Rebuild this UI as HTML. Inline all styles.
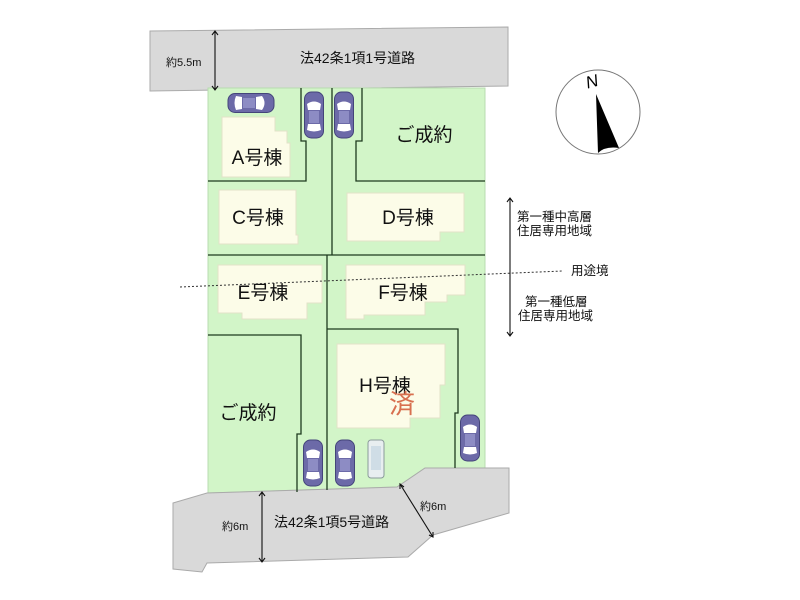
<!DOCTYPE html>
<html><head><meta charset="utf-8"><style>
body{margin:0;background:#fff}
svg{display:block}
text{font-family:"Liberation Sans","Noto Sans CJK JP",sans-serif}
</style></head><body>
<svg width="800" height="600" viewBox="0 0 800 600" xmlns="http://www.w3.org/2000/svg">
<defs>
<g id="car">
<rect x="-9.5" y="-23" width="19" height="46" rx="7" fill="#6c6aa8" stroke="#44447a" stroke-width="1"/>
<path d="M-7,-11 Q0,-16 7,-11 L6,-5 L-6,-5 Z" fill="#fff"/>
<rect x="-5" y="-4" width="10" height="12" fill="#8d8cc4"/>
<path d="M-6,9 L6,9 L7,15 Q0,18 -7,15 Z" fill="#fff"/>
</g>
</defs>
<polygon points="150,31 508,27 508,86 150,91" fill="#d9d9d9" stroke="#aaa" stroke-width="1"/>
<polygon points="208,88 485,88 485,468 425,468 397,487 208,493" fill="#d2f5c8" stroke="#b8dcb0"/>
<polygon points="173,503 207,493 397,487 425,468 509,468 509,513 433,535 408,557 207,563 202,572 173,569" fill="#d9d9d9" stroke="#aaa" stroke-width="1"/>
<g fill="#fcfce8" stroke="#e2e2c8" stroke-width="1">
<polygon points="222,117 275,117 275,131 287,131 287,143 290,143 290,177 222,177"/>
<polygon points="219,190 296,190 296,235 298,235 298,244 219,244"/>
<polygon points="347,193 464,193 464,232 440,232 440,241 347,241"/>
<polygon points="218,265 322,265 322,303 307,303 307,319 242,319 242,313 218,313"/>
<polygon points="346,265 465,265 465,295 447,295 447,302 425,302 425,315 364,315 364,319 346,319"/>
<polygon points="337,344 445,344 445,385 440,385 440,418 410,418 410,428 337,428"/>
</g>
<g fill="none" stroke="#1e3a1e" stroke-width="1.3">
<polyline points="301,88 301,141 306,141 306,181 208,181"/>
<polyline points="332,88 332,255"/>
<polyline points="362,88 362,141 356,141 356,181 485,181"/>
<line x1="208" y1="255" x2="485" y2="255"/>
<polyline points="327,255 327,490"/>
<polyline points="208,335 301,335 301,434 297,434 297,492"/>
<polyline points="327,329 458,329 458,413 455,413 455,468"/>
</g>
<use href="#car" transform="translate(251,103) rotate(90)"/>
<use href="#car" transform="translate(314,115)"/>
<use href="#car" transform="translate(344,115)"/>
<use href="#car" transform="translate(313,463)"/>
<use href="#car" transform="translate(345,463)"/>
<use href="#car" transform="translate(470,438)"/>
<g transform="translate(376,459)"><rect x="-8" y="-19" width="16" height="38" rx="3" fill="#e8eef0" stroke="#8a9a9a"/><rect x="-5" y="-13" width="10" height="24" fill="#cfdde6"/></g>
<g font-size="19" fill="#111" text-anchor="middle">
<text x="257" y="164">A号棟</text>
<text x="258" y="224">C号棟</text>
<text x="408" y="224">D号棟</text>
<text x="263" y="299">E号棟</text>
<text x="403" y="299">F号棟</text>
<text x="385" y="392">H号棟</text>
<text x="424" y="141">ご成約</text>
<text x="248" y="419">ご成約</text>
</g>
<text x="402" y="413" font-size="26" fill="#d87050" text-anchor="middle">済</text>
<g font-size="14" fill="#111">
<text x="300" y="63">法42条1項1号道路</text>
<text x="274" y="527">法42条1項5号道路</text>
</g>
<g font-size="11" fill="#111">
<text x="166" y="66">約5.5m</text>
<text x="222" y="530">約6m</text>
<text x="420" y="510">約6m</text>
</g>
<g stroke="#111" stroke-width="1.1" fill="none">
<line x1="215" y1="31" x2="215" y2="90"/><polyline points="212,35 215,31 218,35"/><polyline points="212,86 215,90 218,86"/>
<line x1="262" y1="492" x2="262" y2="562"/><polyline points="259,496 262,492 265,496"/><polyline points="259,558 262,562 265,558"/>
<line x1="400" y1="484" x2="433" y2="537"/><polyline points="400,489 400,484 404,487"/><polyline points="429,535 433,537 433,532"/>
<line x1="510" y1="198" x2="510" y2="336"/><polyline points="507,202 510,198 513,202"/><polyline points="507,332 510,336 513,332"/>
</g>
<line x1="180" y1="287" x2="563" y2="271" stroke="#333" stroke-width="1" stroke-dasharray="2,2"/>
<g font-size="12.5" fill="#111">
<text x="517" y="221">第一種中高層</text>
<text x="517" y="235">住居専用地域</text>
<text x="571" y="275">用途境</text>
<text x="525" y="306">第一種低層</text>
<text x="518" y="320">住居専用地域</text>
</g>
<circle cx="598" cy="112" r="42" fill="#fff" stroke="#777" stroke-width="1"/>
<path d="M596,94 L619,148 Q605,146 598,153 Z" fill="#000"/>
<text x="586" y="87" font-size="17" font-family="Liberation Serif,serif" font-style="italic" transform="rotate(-15 593 82)">N</text>
</svg>
</body></html>
